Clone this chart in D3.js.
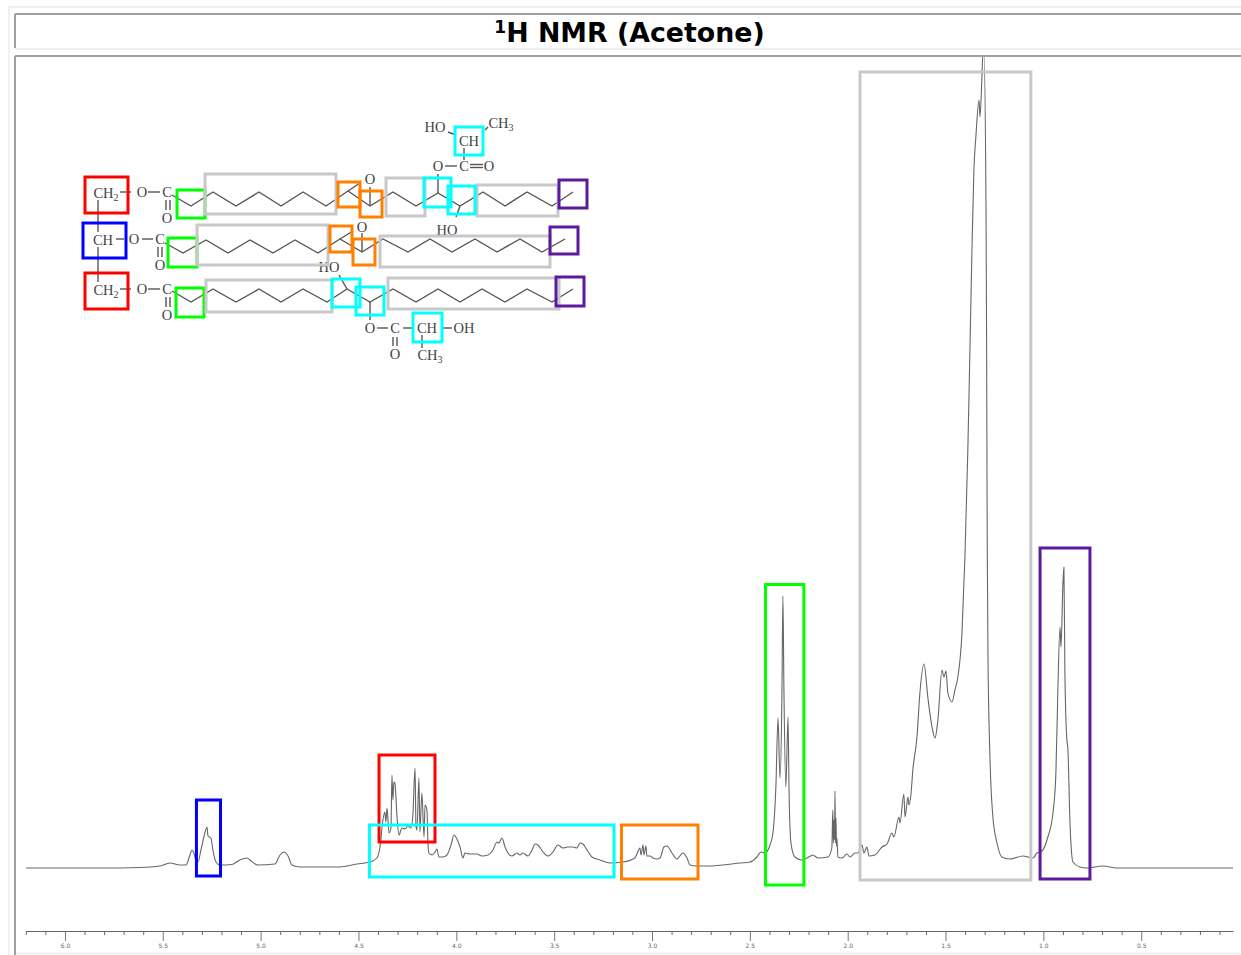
<!DOCTYPE html>
<html>
<head>
<meta charset="utf-8">
<script src="https://cdn.jsdelivr.net/npm/d3@7"></script>
<style>
  html, body { margin: 0; padding: 0; background: #fff; overflow: hidden; }
  svg { display: block; }
</style>
</head>
<body>
<div id="chart"></div>
<script>
// Spectrum: chemical shift (ppm) and height above baseline
const shifts = [
    6.199, 5.821, 5.617, 5.514, 5.463, 5.412, 5.382, 5.361, 5.351, 5.341, 5.330, 5.320,
    5.305, 5.290, 5.274, 5.269, 5.254, 5.244, 5.228, 5.208, 5.147, 5.106, 5.070, 5.055,
    5.014, 4.927, 4.901, 4.881, 4.860, 4.840, 4.799, 4.595, 4.508, 4.441, 4.406, 4.390,
    4.375, 4.365, 4.360, 4.354, 4.344, 4.334, 4.329, 4.324, 4.319, 4.314, 4.303, 4.293,
    4.278, 4.262, 4.247, 4.232, 4.222, 4.211, 4.206, 4.201, 4.191, 4.186, 4.176, 4.165,
    4.160, 4.150, 4.145, 4.140, 4.124, 4.109, 4.099, 4.089, 4.068, 4.048, 4.027, 4.012,
    3.997, 3.981, 3.966, 3.956, 3.930, 3.915, 3.895, 3.869, 3.838, 3.813, 3.792, 3.782,
    3.767, 3.751, 3.736, 3.716, 3.690, 3.675, 3.659, 3.634, 3.613, 3.598, 3.583, 3.557,
    3.532, 3.506, 3.481, 3.455, 3.430, 3.404, 3.384, 3.368, 3.353, 3.332, 3.307, 3.266,
    3.215, 3.148, 3.087, 3.077, 3.062, 3.056, 3.046, 3.041, 3.031, 3.026, 3.010, 2.995,
    2.975, 2.959, 2.939, 2.924, 2.898, 2.873, 2.842, 2.821, 2.806, 2.770, 2.714, 2.551,
    2.499, 2.464, 2.443, 2.423, 2.397, 2.382, 2.367, 2.356, 2.346, 2.336, 2.331, 2.326,
    2.316, 2.305, 2.300, 2.290, 2.270, 2.234, 2.208, 2.178, 2.152, 2.101, 2.081, 2.076,
    2.073, 2.070, 2.067, 2.065, 2.062, 2.060, 2.057, 2.055, 2.050, 2.029, 2.004, 1.988,
    1.963, 1.948, 1.927, 1.917, 1.902, 1.891, 1.861, 1.825, 1.799, 1.774, 1.764, 1.738,
    1.733, 1.713, 1.707, 1.692, 1.687, 1.677, 1.667, 1.646, 1.631, 1.610, 1.590, 1.569,
    1.554, 1.539, 1.518, 1.508, 1.498, 1.488, 1.467, 1.452, 1.437, 1.416, 1.401, 1.386,
    1.375, 1.365, 1.355, 1.345, 1.329, 1.324, 1.314, 1.309, 1.304, 1.293, 1.290, 1.287,
    1.283, 1.273, 1.258, 1.237, 1.212, 1.171, 1.104, 1.053, 1.033, 1.007, 0.977, 0.951,
    0.936, 0.926, 0.915, 0.910, 0.900, 0.895, 0.890, 0.880, 0.875, 0.864, 0.849, 0.813,
    0.778, 0.696, 0.624, 0.031
];
const intensities = [
    0, 0, 0.5, 2, 5, 3, 3, 13, 18, 15, 7, 6,
    18, 31, 41, 32, 30, 18, 6, 3, 3.5, 8, 10, 8,
    3, 4, 13, 16, 12, 3, 1, 1, 4, 6, 10, 21,
    48, 56, 46, 60, 35, 40, 93, 68, 86, 85, 51, 33,
    40, 39, 42, 40, 53, 100, 41, 38, 90, 36, 75, 31,
    63, 58, 25, 15, 13, 16, 19, 11, 11, 13, 23, 33,
    29, 21, 10, 15, 14, 14, 14, 12, 13, 18, 26, 25,
    30, 21, 15, 12, 15, 13, 15, 12, 18, 24, 23, 16,
    12, 16, 23, 20, 21, 21, 20, 25, 24, 18, 11, 8,
    5, 6, 10, 14, 20, 13, 23, 13, 22, 12, 12, 10,
    9, 10, 21, 22, 15, 9, 15, 10, 3, 2, 2, 5,
    6, 11, 16, 15, 23, 35, 81, 150, 90, 175, 272, 181,
    81, 151, 81, 25, 11, 8, 10, 13, 10, 11, 20, 58,
    25, 48, 28, 77, 25, 50, 22, 30, 11, 10, 14, 11,
    15, 15, 23, 15, 21, 12, 13, 21, 24, 35, 31, 51,
    45, 74, 51, 71, 63, 73, 98, 131, 175, 204, 170, 141,
    130, 148, 198, 191, 197, 175, 166, 178, 191, 235, 311, 418,
    521, 618, 698, 731, 768, 751, 791, 815, 815, 655, 518, 328,
    211, 111, 51, 25, 11, 9, 12, 10, 15, 17, 31, 55,
    95, 178, 241, 221, 285, 301, 195, 128, 120, 45, 6, 1,
    0, 2, 0, 0
];

// Axis ticks
const majorTicks = [6.0, 5.5, 5.0, 4.5, 4.0, 3.5, 3.0, 2.5, 2.0, 1.5, 1.0, 0.5];
const minorTicks = [
    6.2, 6.1, 5.9, 5.8, 5.7, 5.6, 5.4, 5.3, 5.2, 5.1, 4.9, 4.8, 4.7, 4.6,
    4.4, 4.3, 4.2, 4.1, 3.9, 3.8, 3.7, 3.6, 3.4, 3.3, 3.2, 3.1, 2.9, 2.8, 2.7, 2.6,
    2.4, 2.3, 2.2, 2.1, 1.9, 1.8, 1.7, 1.6, 1.4, 1.3, 1.2, 1.1, 0.9, 0.8, 0.7, 0.6,
    0.4, 0.3, 0.2, 0.1
];

// Coloured assignment boxes on the spectrum: ppm range and height range
const peakBoxes = [
    { color: "#0000ff", ppm: [5.328, 5.205], h: [-8, 68] },
    { color: "#ff0000", ppm: [4.395, 4.109], h: [26, 113] },
    { color: "#00ffff", ppm: [4.444, 3.194], h: [-9, 43] },
    { color: "#ff8000", ppm: [3.156, 2.765], h: [-11, 43] },
    { color: "#00ff00", ppm: [2.420, 2.224], h: [-17, 283.5] },
    { color: "#c8c8c8", ppm: [1.937, 1.064], h: [-12, 796] },
    { color: "#5c1a9e", ppm: [1.017, 0.762], h: [-11, 320] }
];

// Structure inset: [x0, x1, y0, y1] of each highlight box
const structureBoxes = [
    { color: "#ff0000", box: [85, 128, 177, 213] },
    { color: "#0000ff", box: [83, 126, 223, 258] },
    { color: "#ff0000", box: [85, 128, 273, 309] },
    { color: "#00ff00", box: [177, 205, 190, 218] },
    { color: "#00ff00", box: [168, 197, 238, 267] },
    { color: "#00ff00", box: [176, 204, 288, 317] },
    { color: "#c8c8c8", box: [205, 336, 174, 214] },
    { color: "#c8c8c8", box: [386, 425, 178, 216] },
    { color: "#c8c8c8", box: [477, 558, 185, 216] },
    { color: "#c8c8c8", box: [197, 328, 225, 265] },
    { color: "#c8c8c8", box: [380, 550, 236, 267] },
    { color: "#c8c8c8", box: [206, 332, 280, 312] },
    { color: "#c8c8c8", box: [388, 559, 278, 309] },
    { color: "#ff8000", box: [338, 360, 182, 207] },
    { color: "#ff8000", box: [360, 382, 191, 217] },
    { color: "#ff8000", box: [330, 352, 226, 252] },
    { color: "#ff8000", box: [353, 375, 239, 265] },
    { color: "#00ffff", box: [455, 483, 127, 155] },
    { color: "#00ffff", box: [424, 451, 178, 207] },
    { color: "#00ffff", box: [448, 475, 186, 214] },
    { color: "#00ffff", box: [332, 360, 279, 307] },
    { color: "#00ffff", box: [356, 384, 287, 315] },
    { color: "#00ffff", box: [413, 442, 313, 342] },
    { color: "#5c1a9e", box: [559, 587, 180, 208] },
    { color: "#5c1a9e", box: [550, 578, 227, 254] },
    { color: "#5c1a9e", box: [556, 584, 277, 306] }
];

// Structure inset: fatty acid chains and bonds
const bondPaths = [
    [[172, 195], [191, 206], [213, 192], [236, 206], [259, 192], [281, 206], [303, 192], [326, 206], [348, 191], [370, 206], [393, 192], [416, 206], [438, 193], [460, 206], [483, 192], [505, 206], [527, 192], [552, 206], [573, 192]],
    [[165, 243], [183, 253], [206, 240], [228, 253], [250, 240], [273, 253], [295, 240], [318, 253], [340, 239], [362, 252], [383, 239], [408, 252], [430, 239], [452, 252], [475, 239], [497, 252], [520, 239], [542, 252], [565, 239]],
    [[172, 291], [191, 302], [213, 289], [236, 302], [259, 289], [281, 302], [303, 289], [327, 302], [347, 289], [370, 302], [393, 289], [416, 302], [438, 289], [460, 302], [482, 289], [505, 302], [527, 289], [552, 302], [573, 289]],
    [[98, 200], [98, 232]], [[98, 247], [98, 282]],
    [[120, 192], [131, 192]], [[148, 192], [160, 192]], [[166, 200], [166, 210]], [[170, 200], [170, 210]],
    [[116, 239], [124, 239]], [[142, 239], [153, 239]], [[158, 247], [158, 257]], [[162, 247], [162, 257]],
    [[120, 289], [131, 289]], [[148, 289], [160, 289]], [[166, 297], [166, 307]], [[170, 297], [170, 307]],
    [[348, 191], [360, 183]], [[370, 187], [370, 206]],
    [[340, 239], [353, 231]], [[362, 233], [362, 252]],
    [[438, 174], [438, 193]], [[460, 206], [456, 217]],
    [[464, 148], [464, 160]], [[448, 132], [456, 135]], [[485, 130], [488, 127]],
    [[445, 166], [457, 166]], [[470, 164.5], [483, 164.5]], [[470, 167.5], [483, 167.5]],
    [[339, 275], [347, 289]], [[370, 302], [370, 320]],
    [[377, 328], [388, 328]], [[403, 328], [412, 328]], [[442, 328], [452, 328]],
    [[393, 337], [393, 346]], [[397, 337], [397, 346]], [[422, 335], [422, 348]]
];

// Structure inset: atom labels [text, subscript, x, y]
const atomLabels = [
    ["CH", "2", 106, 198], ["O", "", 142, 197], ["C", "", 167, 197], ["O", "", 167, 223],
    ["CH", "", 103, 245], ["O", "", 134, 244], ["C", "", 160, 244], ["O", "", 160, 270],
    ["CH", "2", 106, 295], ["O", "", 142, 294], ["C", "", 167, 294], ["O", "", 167, 320],
    ["HO", "", 435, 132], ["CH", "3", 501, 128], ["CH", "", 469, 146],
    ["O", "", 438, 171], ["C", "", 464, 171], ["O", "", 489, 171],
    ["O", "", 370, 184], ["HO", "", 447, 235], ["O", "", 362, 232], ["HO", "", 329, 272],
    ["O", "", 370, 333], ["C", "", 395, 333], ["CH", "", 427, 333], ["OH", "", 464, 333],
    ["O", "", 395, 359], ["CH", "3", 430, 360]
];

const pageWidth = 1241, pageHeight = 955;

// Set up the SVG container
const svg = d3.select("#chart")
    .append("svg")
    .attr("width", pageWidth)
    .attr("height", pageHeight);

svg.append("rect")
    .attr("width", pageWidth)
    .attr("height", pageHeight)
    .attr("fill", "#fff");

// Page frames around the title and the plot
const frameLines = [
    ["#f0f0f0", 8, 7, 1241, 7], ["#f0f0f0", 9, 7, 9, 955],
    ["#a0a0a0", 15, 14, 1241, 14], ["#a0a0a0", 15, 14, 15, 48],
    ["#f0f0f0", 15, 49, 1241, 49], ["#f0f0f0", 15, 953.5, 1241, 953.5],
    ["#a0a0a0", 15, 56, 1241, 56], ["#a0a0a0", 15, 56, 15, 955]
];
svg.selectAll(".frame")
    .data(frameLines)
    .enter().append("line")
    .attr("class", "frame")
    .attr("stroke", d => d[0])
    .attr("stroke-width", 2)
    .attr("x1", d => d[1]).attr("y1", d => d[2])
    .attr("x2", d => d[3]).attr("y2", d => d[4]);

// Title
const title = svg.append("text")
    .attr("x", 629.5)
    .attr("y", 42)
    .attr("text-anchor", "middle")
    .style("font-family", "'DejaVu Sans', sans-serif")
    .style("font-weight", "bold")
    .style("font-size", "26.8px")
    .style("fill", "#000");
title.append("tspan")
    .attr("dy", -9)
    .style("font-size", "17px")
    .text("1");
title.append("tspan")
    .attr("dy", 9)
    .text("H NMR (Acetone)");

// Scales
const x = d3.scaleLinear().domain([6.199, 0.031]).range([26, 1233]);
const y = d3.scaleLinear().domain([0, 812]).range([868, 56]);

svg.append("clipPath")
    .attr("id", "plot-clip")
    .append("rect")
    .attr("x", 16).attr("y", 57)
    .attr("width", pageWidth - 16).attr("height", pageHeight - 57);

// Spectrum trace
const line = d3.line()
    .curve(d3.curveMonotoneX)
    .x(d => x(d[0]))
    .y(d => y(d[1]));

svg.append("path")
    .datum(d3.zip(shifts, intensities))
    .attr("clip-path", "url(#plot-clip)")
    .attr("d", line)
    .attr("fill", "none")
    .attr("stroke", "#666")
    .attr("stroke-width", 1.1)
    .attr("stroke-linejoin", "round");

// Assignment boxes on the spectrum
svg.selectAll(".peak-box")
    .data(peakBoxes)
    .enter().append("rect")
    .attr("class", "peak-box")
    .attr("x", d => x(d.ppm[0]))
    .attr("y", d => y(d.h[1]))
    .attr("width", d => x(d.ppm[1]) - x(d.ppm[0]))
    .attr("height", d => y(d.h[0]) - y(d.h[1]))
    .attr("fill", "none")
    .attr("stroke", d => d.color)
    .attr("stroke-width", 3);

// Axis along the bottom
const axisGroup = svg.append("g").attr("transform", "translate(0,931)");

axisGroup.append("g")
    .call(d3.axisBottom(x).tickValues(minorTicks).tickSize(4).tickFormat("").tickSizeOuter(0))
    .call(g => g.select(".domain").attr("stroke", "#666"))
    .call(g => g.selectAll(".tick line").attr("stroke", "#666"));

axisGroup.append("g")
    .call(d3.axisBottom(x).tickValues(majorTicks).tickSize(10).tickFormat(d3.format(".1f")).tickSizeOuter(0))
    .call(g => g.select(".domain").remove())
    .call(g => g.selectAll(".tick line").attr("stroke", "#777"))
    .call(g => g.selectAll(".tick text")
        .attr("y", 13)
        .style("font-family", "'DejaVu Sans', sans-serif")
        .style("font-size", "6px")
        .style("fill", "#666"));

// Structure inset
svg.selectAll(".bond")
    .data(bondPaths)
    .enter().append("path")
    .attr("class", "bond")
    .attr("d", d3.line())
    .attr("fill", "none")
    .attr("stroke", "#555")
    .attr("stroke-width", 1.4);

const labels = svg.selectAll(".atom")
    .data(atomLabels)
    .enter().append("text")
    .attr("class", "atom")
    .attr("x", d => d[2])
    .attr("y", d => d[3])
    .attr("text-anchor", "middle")
    .style("font-family", "'Liberation Serif', serif")
    .style("font-size", "14.5px")
    .style("fill", "#444");
labels.append("tspan").text(d => d[0]);
labels.append("tspan")
    .attr("dy", 3)
    .style("font-size", "10px")
    .text(d => d[1]);

svg.selectAll(".structure-box")
    .data(structureBoxes)
    .enter().append("rect")
    .attr("class", "structure-box")
    .attr("x", d => d.box[0])
    .attr("y", d => d.box[2])
    .attr("width", d => d.box[1] - d.box[0])
    .attr("height", d => d.box[3] - d.box[2])
    .attr("fill", "none")
    .attr("stroke", d => d.color)
    .attr("stroke-width", 3);
</script>
</body>
</html>
